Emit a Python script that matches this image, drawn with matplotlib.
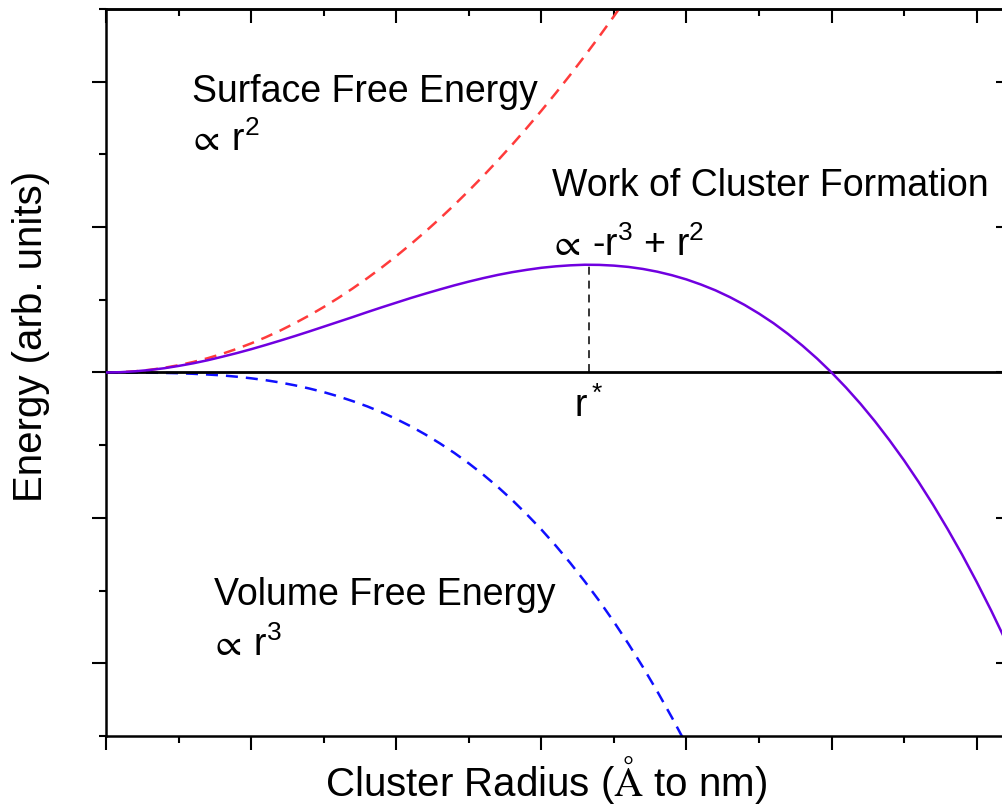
import matplotlib.pyplot as plt
import numpy as np

plt.rcParams['font.family'] = ['Liberation Sans', 'DejaVu Sans']
plt.rcParams['mathtext.default'] = 'regular'

# cluster radius (arb. units), sampled every 0.1
radius = [0.0, 0.1, 0.2, 0.3, 0.4, 0.5, 0.6, 0.7, 0.8, 0.9, 1.0, 1.1, 1.2, 1.3, 1.4, 1.5, 1.6, 1.7, 1.8, 1.9,
          2.0, 2.1, 2.2, 2.3, 2.4, 2.5, 2.6, 2.7, 2.8, 2.9, 3.0, 3.1, 3.2, 3.3, 3.4, 3.5, 3.6, 3.7, 3.8, 3.9,
          4.0, 4.1, 4.2, 4.3, 4.4, 4.5, 4.6, 4.7, 4.8, 4.9, 5.0, 5.1, 5.2, 5.3, 5.4, 5.5, 5.6, 5.7, 5.8, 5.9,
          6.0, 6.1, 6.2, 6.3]

# energies (arb. units, one major tick = 1)
e_surf = [0.0, 0.002, 0.008, 0.018, 0.032, 0.050, 0.072, 0.098, 0.128, 0.162, 0.200, 0.242, 0.288, 0.338,
          0.392, 0.450, 0.512, 0.578, 0.648, 0.722, 0.800, 0.882, 0.968, 1.058, 1.152, 1.250, 1.352, 1.458,
          1.568, 1.682, 1.800, 1.922, 2.048, 2.178, 2.312, 2.450, 2.592]
e_vol = [0.0, 0.0, 0.0, -0.001, -0.003, -0.005, -0.009, -0.014, -0.020, -0.029, -0.040, -0.053, -0.069,
         -0.088, -0.110, -0.135, -0.164, -0.197, -0.233, -0.274, -0.320, -0.370, -0.426, -0.487, -0.553,
         -0.625, -0.703, -0.787, -0.878, -0.976, -1.080, -1.192, -1.311, -1.438, -1.572, -1.715, -1.866,
         -2.026, -2.195, -2.373, -2.560]
e_work = [0.0, 0.002, 0.008, 0.017, 0.029, 0.045, 0.063, 0.084, 0.108, 0.133, 0.160, 0.189, 0.219, 0.250,
          0.282, 0.315, 0.348, 0.381, 0.415, 0.448, 0.480, 0.512, 0.542, 0.571, 0.599, 0.625, 0.649, 0.671,
          0.690, 0.706, 0.720, 0.730, 0.737, 0.741, 0.740, 0.735, 0.726, 0.712, 0.693, 0.669, 0.640, 0.605,
          0.565, 0.518, 0.465, 0.405, 0.339, 0.265, 0.184, 0.096, 0.0, -0.104, -0.216, -0.337, -0.467,
          -0.605, -0.753, -0.910, -1.077, -1.253, -1.440, -1.637, -1.845, -2.064]

# critical radius and barrier height
r_star = 3.33
w_star = 0.74

fig = plt.figure(figsize=(10.03, 8.12), dpi=100)
ax = fig.add_axes([0.1057, 0.0924, 0.9013, 0.8953])

ax.plot(radius[:len(e_surf)], e_surf, color='#ff3b3b', lw=1.8, dashes=[4.8, 3.2], zorder=2)
ax.plot(radius[:len(e_vol)], e_vol, color='#1010ff', lw=1.8, dashes=[4.8, 3.2], zorder=2)
ax.axhline(0, color='black', lw=2.0, zorder=3)
ax.plot(radius[:len(e_work)], e_work, color='#7000e0', lw=1.8, zorder=4)
ax.plot([r_star, r_star], [0, w_star], color='black', lw=1.1, dashes=[5.2, 3.9], zorder=3)

ax.set_xlim(0, 6.23)
ax.set_ylim(-2.5, 2.5)
xmaj = np.arange(0, 7, 1)
xmin = np.arange(0, 6.5, 0.5)
ymaj = np.arange(-2, 3, 1)
ymin = np.arange(-2.5, 3, 0.5)
ax.set_xticks(xmaj)
ax.set_xticks(xmin, minor=True)
ax.set_yticks(ymaj)
ax.set_yticks(ymin, minor=True)
ax.tick_params(which='both', labelleft=False, labelbottom=False, width=1.5, direction='out')
ax.tick_params(which='major', length=10)
ax.tick_params(which='minor', length=5)
for side in ['left', 'right', 'top', 'bottom']:
    ax.spines[side].set_linewidth(1.8)

# Origin style: top/right ticks point inward
top = ax.secondary_xaxis('top')
top.set_xticks(xmaj)
top.set_xticks(xmin, minor=True)
right = ax.secondary_yaxis('right')
right.set_yticks(ymaj)
right.set_yticks(ymin, minor=True)
for sec in [top, right]:
    sec.tick_params(which='both', direction='in', width=1.5, labeltop=False, labelright=False)
    sec.tick_params(which='major', length=10)
    sec.tick_params(which='minor', length=5)
    for sp in sec.spines.values():
        sp.set_linewidth(1.8)

fs = 27
mf = 'cm'
ax.text(0.593, 1.87, 'Surface Free Energy', fontsize=fs)
ax.text(0.56, 1.53, r'$\propto\,$r$^2$', fontsize=fs, math_fontfamily=mf)
ax.text(3.076, 1.22, 'Work of Cluster Formation', fontsize=fs)
ax.text(3.043, 0.81, r'$\propto\,$-r$^3$ + r$^2$', fontsize=fs, math_fontfamily=mf)
ax.text(0.745, -1.595, 'Volume Free Energy', fontsize=fs)
ax.text(0.712, -1.94, r'$\propto\,$r$^3$', fontsize=fs, math_fontfamily=mf)
ax.text(r_star, -0.30, r'r$^*$', fontsize=fs, ha='center')

fig.text(546 / 1003, 1 - 796 / 812, r'Cluster Radius ($\mathrm{\AA}$ to nm)', fontsize=29,
         ha='center', va='baseline', math_fontfamily='stix')
fig.text(31 / 1003, 1 - 336 / 812, 'Energy (arb. units)', fontsize=29, rotation=90,
         ha='center', va='center')

fig.savefig('out.png', dpi=100)
